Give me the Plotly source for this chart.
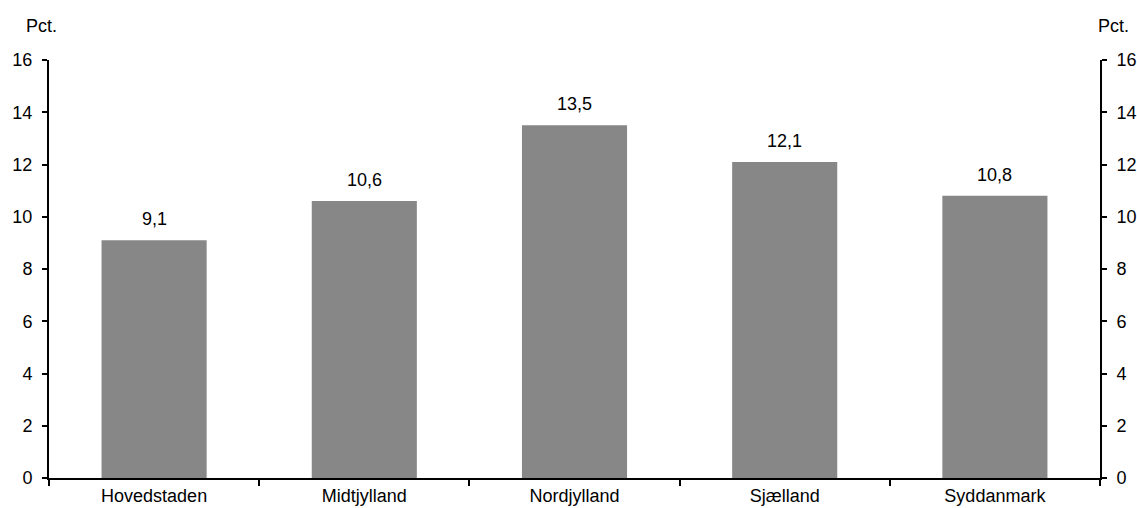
import plotly.graph_objects as go

categories = ["Hovedstaden", "Midtjylland", "Nordjylland", "Sjælland", "Syddanmark"]
values = [9.1, 10.6, 13.5, 12.1, 10.8]
y_ticks = [0, 2, 4, 6, 8, 10, 12, 14, 16]

font = dict(family="Liberation Sans, Arial, sans-serif", size=18, color="black")

fig = go.Figure()
fig.add_trace(go.Bar(x=categories, y=values, marker=dict(color="#878787", line=dict(width=0)),
                     width=0.5, hoverinfo="x+y"))
fig.add_trace(go.Scatter(x=categories, y=values, yaxis="y2", mode="markers",
                         marker=dict(opacity=0), hoverinfo="skip", showlegend=False))

for c, v in zip(categories, values):
    fig.add_annotation(x=c, y=v, text=f"{v:.1f}".replace(".", ","), showarrow=False,
                       yanchor="bottom", yshift=9, font=font)

axis_common = dict(range=[0, 16], tickvals=y_ticks, ticks="outside", ticklen=5, tickwidth=2,
                   tickcolor="black", showline=True, linecolor="black", linewidth=2,
                   showgrid=False, zeroline=False, tickfont=font, fixedrange=True,
                   ticklabelstandoff=6, automargin=False)

fig.update_layout(
    width=1137, height=508,
    margin=dict(l=49, r=37, t=60, b=30),
    paper_bgcolor="white", plot_bgcolor="white",
    showlegend=False, bargap=0.5,
    font=font,
    separators=",.",
    xaxis=dict(tickson="boundaries", ticks="outside", ticklen=6, tickwidth=2, tickcolor="black",
               showline=True, linecolor="black", linewidth=2, showgrid=False, tickfont=font,
               automargin=False, fixedrange=True),
    yaxis=dict(side="left", **axis_common),
    yaxis2=dict(side="right", overlaying="y", **axis_common),
)
fig.add_annotation(xref="paper", yref="paper", x=-0.0067, y=1, yshift=34, text="Pct.",
                   showarrow=False, xanchor="center", yanchor="middle", font=font)
fig.add_annotation(xref="paper", yref="paper", x=1.0124, y=1, yshift=34, text="Pct.",
                   showarrow=False, xanchor="center", yanchor="middle", font=font)

fig.write_html("out.html", config={"displayModeBar": False},
               post_script="document.body.style.margin='0';document.body.style.overflow='hidden';")
